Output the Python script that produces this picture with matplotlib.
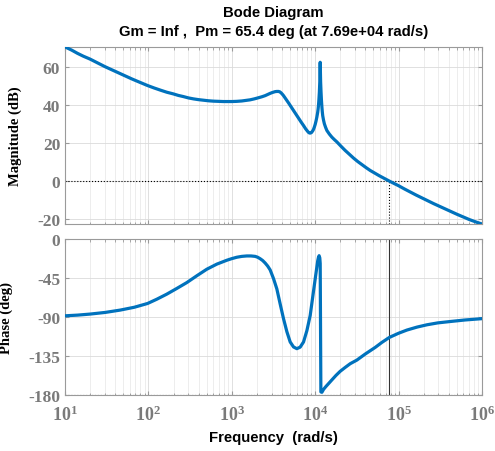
import matplotlib
matplotlib.use("Agg")
import matplotlib.pyplot as plt
import numpy as np

# ── data (log10 of rad/s) ───────────────────────────────────────────────────
mag_logw = [1.00, 1.08, 1.15, 1.22, 1.30, 1.39, 1.48, 1.55, 1.62, 1.68, 1.74,
            1.80, 1.87, 1.93, 1.99, 2.07, 2.15, 2.22, 2.30, 2.36, 2.42, 2.48,
            2.54, 2.60, 2.66, 2.72, 2.78, 2.84, 2.90, 2.95, 3.00, 3.06, 3.12,
            3.17, 3.22, 3.27, 3.32, 3.36, 3.40, 3.43, 3.46, 3.49, 3.52, 3.54,
            3.56, 3.575, 3.59, 3.605, 3.62, 3.65, 3.68, 3.71, 3.74, 3.77,
            3.80, 3.83, 3.86, 3.885, 3.91, 3.925, 3.94, 3.955, 3.97, 3.98,
            3.99, 4.00, 4.01, 4.02, 4.03, 4.035, 4.04, 4.045, 4.05, 4.055,
            4.06, 4.065, 4.07, 4.075, 4.08, 4.085, 4.09, 4.10, 4.11, 4.125,
            4.14, 4.17, 4.20, 4.23, 4.26, 4.31, 4.36, 4.41, 4.46, 4.51, 4.56,
            4.61, 4.66, 4.715, 4.77, 4.83, 4.886, 4.94, 5.00, 5.07, 5.14,
            5.21, 5.28, 5.35, 5.42, 5.49, 5.56, 5.63, 5.70, 5.775, 5.85,
            5.925, 6.00]
mag_db = [70.4, 68.7, 67.0, 65.5, 64.0, 62.0, 60.0, 58.6, 57.2, 56.0, 54.8,
          53.6, 52.3, 51.2, 50.1, 48.8, 47.6, 46.6, 45.7, 44.9, 44.3, 43.6,
          43.1, 42.7, 42.4, 42.1, 41.9, 41.8, 41.7, 41.7, 41.7, 41.8, 42.0,
          42.3, 42.6, 43.1, 43.7, 44.2, 44.8, 45.4, 46.0, 46.5, 46.9, 47.0,
          47.0, 46.8, 46.3, 45.6, 44.8, 42.9, 41.0, 39.0, 37.0, 35.0,
          33.0, 31.0, 29.1, 27.4, 26.0, 25.3, 25.1, 25.4, 26.3, 27.1,
          28.3, 29.7, 31.5, 33.6, 36.1, 37.8, 40.0, 43.0, 46.6, 52.0,
          62.3, 52.0, 46.6, 42.3, 39.0, 36.4, 34.3, 31.9, 30.0, 28.1,
          26.5, 24.6, 23.0, 21.7, 20.5, 18.2, 16.0, 14.0, 12.0, 10.2, 8.6,
          7.0, 5.5, 4.1, 2.7, 1.3, 0.0, -1.2, -2.5, -4.2, -5.8,
          -7.4, -8.9, -10.4, -11.9, -13.3, -14.7, -16.1, -17.5, -18.9, -20.3,
          -21.5, -22.6]

ph_logw = [1.00, 1.15, 1.30, 1.48, 1.66, 1.83, 1.99, 2.10, 2.22, 2.34, 2.46,
           2.58, 2.70, 2.82, 2.94, 3.00, 3.06, 3.12, 3.18, 3.23, 3.28, 3.31,
           3.34, 3.37, 3.40, 3.43, 3.46, 3.50, 3.54, 3.58, 3.62, 3.66, 3.70,
           3.74, 3.78, 3.82, 3.86, 3.90, 3.94, 3.97, 4.00, 4.02, 4.03, 4.04,
           4.047, 4.055, 4.06, 4.068, 4.08, 4.10, 4.13, 4.16, 4.20, 4.25,
           4.30, 4.36, 4.42, 4.50, 4.60, 4.72, 4.80, 4.89, 5.00, 5.10, 5.22,
           5.34, 5.47, 5.62, 5.80, 6.00]
ph_deg = [-88.7, -87.9, -86.7, -84.8, -82.1, -78.8, -74.4, -69.5, -63.6,
          -57.0, -50.2, -42.3, -34.7, -28.8, -24.3, -22.4, -20.8, -19.8,
          -19.3, -19.3, -19.8, -20.8, -22.5, -24.6, -27.5, -31.0, -35.5,
          -45.5, -57.5, -75.0, -92.0, -107.0, -119.0, -124.8, -126.8, -125.0,
          -119.0, -106.0, -88.3, -67.0, -45.9, -32.0, -25.0, -20.5, -19.0,
          -21.5, -28.0, -176.9, -177.4, -174.0, -170.5, -167.3, -163.0,
          -157.7, -153.0, -148.5, -144.2, -140.0, -133.0, -125.3, -119.5,
          -113.7, -108.9, -105.2, -101.8, -99.1, -96.9, -95.3, -93.5, -92.0]

mag_ticks = [-20, 0, 20, 40, 60]
ph_ticks = [0, -45, -90, -135, -180]
decades = [1, 2, 3, 4, 5, 6]

wc = 7.69e4          # gain crossover
title_1 = "Bode Diagram"
title_2 = "Gm = Inf ,  Pm = 65.4 deg (at 7.69e+04 rad/s)"

# ── style ────────────────────────────────────────────────────────────────────
plt.rcParams["mathtext.fontset"] = "custom"
plt.rcParams["mathtext.rm"] = "Liberation Serif:bold"
LINE = "#0072BD"
TICKC = "#7a7a7a"
SPINE = "#9a9a9a"
SERIF = "Liberation Serif"
SANS = "Liberation Sans"

W, H = 495, 452
fig = plt.figure(figsize=(W / 100, H / 100), dpi=100)
fig.patch.set_facecolor("white")

L, R = 65, 482
ax1 = fig.add_axes([L / W, 1 - 225 / H, (R - L) / W, (225 - 47.5) / H])
ax2 = fig.add_axes([L / W, 1 - 396 / H, (R - L) / W, (396 - 240.3) / H])

for ax in (ax1, ax2):
    ax.set_xscale("log")
    ax.set_xlim(10, 1e6)
    ax.grid(True, which="major", color="#dadada", lw=0.6)
    ax.grid(True, which="minor", axis="x", color="#e6e6e6", lw=0.5)
    ax.set_axisbelow(True)
    for s in ax.spines.values():
        s.set_edgecolor(SPINE)
        s.set_linewidth(0.8)
    ax.tick_params(which="both", direction="in", top=True, right=True,
                   colors=SPINE, labelcolor=TICKC)
    ax.tick_params(which="major", length=3)
    ax.tick_params(which="minor", length=1.8)

# magnitude
ax1.plot(10 ** np.array(mag_logw), mag_db, color=LINE, lw=2.3,
         solid_joinstyle="round", solid_capstyle="round", zorder=3)
ax1.set_ylim(-22.6, 70.6)
ax1.axhline(0, color="black", ls=":", lw=0.8, zorder=2)
ax1.plot([wc, wc], [-22.6, 0], color="black", ls=":", lw=0.8, zorder=2)
ax1.set_yticks(mag_ticks)
ax1.set_yticklabels([str(t) for t in mag_ticks], family=SERIF,
                    fontweight="bold", fontsize=12.5)
ax1.tick_params(axis="x", which="both", labelbottom=False)
ax1.set_ylabel("Magnitude (dB)", family=SERIF, fontweight="bold",
               fontsize=10.5, color="black")
ax1.yaxis.set_label_coords(-0.103, 0.5)

# phase
ax2.plot(10 ** np.array(ph_logw), ph_deg, color=LINE, lw=2.3,
         solid_joinstyle="round", solid_capstyle="round", zorder=3)
ax2.set_ylim(-180.5, 0)
ax2.axhline(-180, color="black", ls=":", lw=0.8, zorder=2)
ax2.axvline(wc, color="#333333", lw=0.8, zorder=2)
ax2.set_yticks(ph_ticks)
ax2.set_yticklabels([str(t) for t in ph_ticks], family=SERIF,
                    fontweight="bold", fontsize=12.5)
ax2.set_xticks([10.0 ** k for k in decades])
ax2.set_xticklabels([rf"$\mathrm{{10^{{{k}}}}}$" for k in decades],
                    fontsize=13)
ax2.tick_params(axis="x", which="major", pad=7)
ax2.set_ylabel("Phase (deg)", family=SERIF, fontweight="bold",
               fontsize=10.5, color="black")
ax2.yaxis.set_label_coords(-0.125, 0.5)

cx = (L + R) / 2 / W
fig.text(cx, 1 - 13 / H, title_1, ha="center", va="center", family=SANS,
         fontweight="bold", fontsize=10.7)
fig.text(cx, 1 - 32 / H, title_2, ha="center", va="center", family=SANS,
         fontweight="bold", fontsize=10.7)
fig.text(cx, 1 - 438 / H, "Frequency  (rad/s)", ha="center", va="center",
         family=SANS, fontweight="bold", fontsize=10.7)

fig.savefig("out.png", dpi=100, facecolor="white")
